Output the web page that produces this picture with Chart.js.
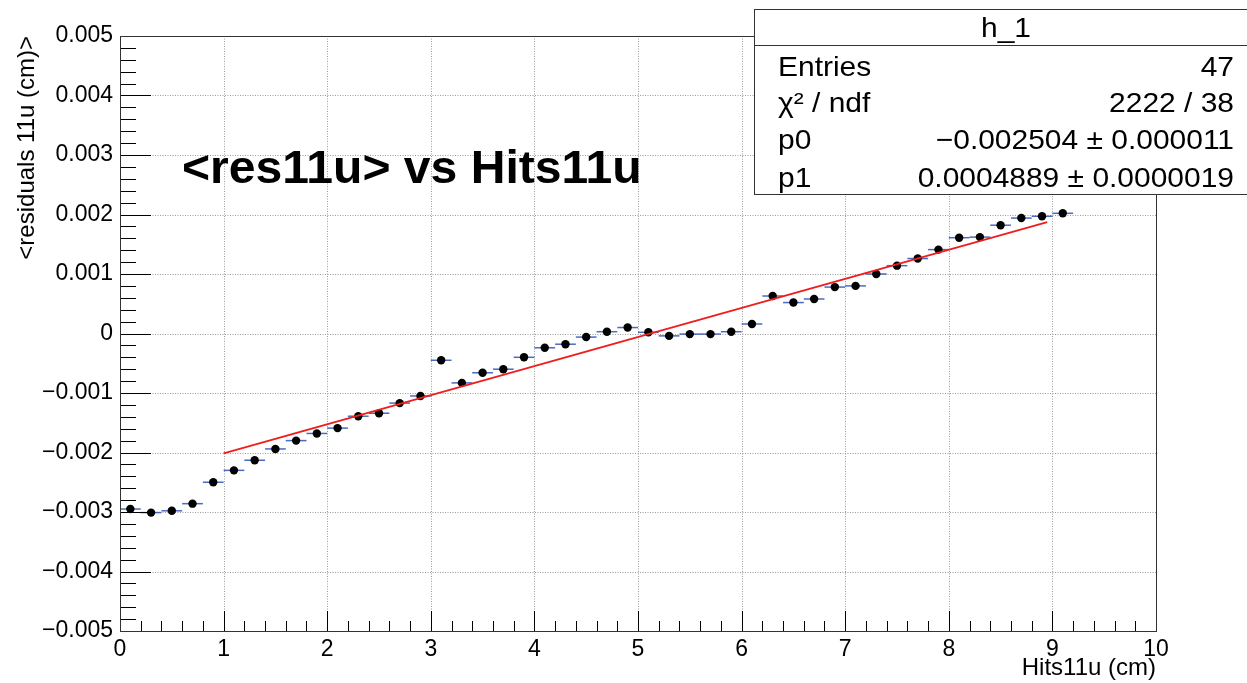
<!DOCTYPE html>
<html>
<head>
<meta charset="utf-8">
<script src="https://cdn.jsdelivr.net/npm/chart.js@4"></script>
<style>
  html, body { margin: 0; padding: 0; background: #fff; }
  canvas { display: block; }
</style>
</head>
<body>
<canvas id="chart" width="1247" height="683"></canvas>
<script>
// bin centres of the profile (Hits11u, cm)
const xVals = [0.1, 0.3, 0.5, 0.7, 0.9, 1.1, 1.3, 1.5, 1.7, 1.9,
  2.1, 2.3, 2.5, 2.7, 2.9, 3.1, 3.3, 3.5, 3.7, 3.9,
  4.1, 4.3, 4.5, 4.7, 4.9, 5.1, 5.3, 5.5, 5.7, 5.9,
  6.1, 6.3, 6.5, 6.7, 6.9, 7.1, 7.3, 7.5, 7.7, 7.9,
  8.1, 8.3, 8.5, 8.7, 8.9, 9.1];
// <residuals 11u> (cm)
const yVals = [-0.00295, -0.00301, -0.00298, -0.00286, -0.00250, -0.00230, -0.00213, -0.00194, -0.00180, -0.00168,
  -0.00159, -0.00139, -0.00134, -0.00117, -0.00105, -0.00045, -0.00083, -0.00066, -0.00060, -0.00040,
  -0.00024, -0.00018, -0.00006, 0.00003, 0.00010, 0.00002, -0.00004, -0.00001, -0.00001, 0.00003,
  0.00016, 0.00063, 0.00052, 0.00058, 0.00078, 0.00080, 0.00100, 0.00114, 0.00126, 0.00141,
  0.00161, 0.00162, 0.00182, 0.00194, 0.00197, 0.00202];
const binHalf = 0.1;

// pol1 fit end points
const fitX = [1.0, 8.95];
const fitY = [-0.002015, 0.001872];

const xTicks = [0, 1, 2, 3, 4, 5, 6, 7, 8, 9, 10];
const yTicks = [-0.005, -0.004, -0.003, -0.002, -0.001, 0, 0.001, 0.002, 0.003, 0.004, 0.005];

const titleText = '<res11u> vs Hits11u';
const xTitle = 'Hits11u (cm)';
const yTitle = '<residuals 11u (cm)>';
const statsName = 'h_1';
const statsLabels = ['Entries', 'χ² / ndf', 'p0', 'p1'];
const statsValues = ['47', '2222 / 38', '−0.002504 ± 0.000011', '0.0004889 ± 0.0000019'];

const FONT = '"Liberation Sans", Arial, Helvetica, sans-serif';

function fmtY(v) {
  const r = Math.round(v * 1000) / 1000;
  if (r === 0) return '0';
  const s = Math.abs(r).toFixed(3);
  return r < 0 ? '−' + s : s;
}

// text drawn a bit wider, like the ROOT output
function wideText(ctx, text, x, y, align, stretch) {
  ctx.save();
  ctx.translate(x, y);
  ctx.scale(stretch, 1);
  ctx.textAlign = align;
  ctx.fillText(text, 0, 0);
  ctx.restore();
}

// ROOT style frame, grid, inner tick marks, error bars and text
const rootStyle = {
  id: 'rootStyle',
  beforeDraw(chart) {
    const ctx = chart.ctx;
    ctx.save();
    ctx.fillStyle = '#fff';
    ctx.fillRect(0, 0, chart.width, chart.height);
    ctx.restore();
  },
  beforeDatasetsDraw(chart) {
    const { ctx, chartArea: a, scales: { x, y } } = chart;
    ctx.save();
    // dotted grid
    ctx.strokeStyle = '#9a9a9a';
    ctx.lineWidth = 1;
    ctx.setLineDash([1, 1.5]);
    xTicks.slice(1, -1).forEach(v => {
      const px = Math.round(x.getPixelForValue(v)) + 0.5;
      ctx.beginPath(); ctx.moveTo(px, a.top); ctx.lineTo(px, a.bottom); ctx.stroke();
    });
    yTicks.slice(1, -1).forEach(v => {
      const py = Math.round(y.getPixelForValue(v)) + 0.5;
      ctx.beginPath(); ctx.moveTo(a.left, py); ctx.lineTo(a.right, py); ctx.stroke();
    });
    ctx.setLineDash([]);
    // horizontal error bars (bin width)
    ctx.strokeStyle = 'rgba(45,80,180,0.85)';
    ctx.lineWidth = 1.5;
    xVals.forEach((xv, i) => {
      const py = y.getPixelForValue(yVals[i]);
      ctx.beginPath();
      ctx.moveTo(x.getPixelForValue(xv - binHalf), py);
      ctx.lineTo(x.getPixelForValue(xv + binHalf), py);
      ctx.stroke();
    });
    ctx.restore();
  },
  afterDatasetsDraw(chart) {
    const { ctx, chartArea: a, scales: { x, y } } = chart;
    ctx.save();
    ctx.strokeStyle = '#000';
    ctx.lineWidth = 1;
    // ticks on the bottom axis, pointing up
    for (let i = 0; i <= 50; i++) {
      const v = i * 0.2;
      const px = Math.round(x.getPixelForValue(v)) + 0.5;
      const len = (i % 5 === 0) ? 20 : 10;
      ctx.beginPath(); ctx.moveTo(px, a.bottom); ctx.lineTo(px, a.bottom - len); ctx.stroke();
    }
    // ticks on the left axis, pointing right
    for (let i = 0; i <= 50; i++) {
      const v = -0.005 + i * 0.0002;
      const py = Math.round(y.getPixelForValue(v)) + 0.5;
      const len = (i % 5 === 0) ? 31 : 16;
      ctx.beginPath(); ctx.moveTo(a.left, py); ctx.lineTo(a.left + len, py); ctx.stroke();
    }
    // frame
    ctx.strokeStyle = '#333';
    ctx.strokeRect(Math.round(a.left) + 0.5, Math.round(a.top) + 0.5,
      Math.round(a.right - a.left), Math.round(a.bottom - a.top));
    ctx.restore();
  },
  afterDraw(chart) {
    const { ctx, chartArea: a } = chart;
    ctx.save();
    ctx.fillStyle = '#000';
    ctx.textBaseline = 'alphabetic';
    // histogram title inside the pad
    ctx.font = 'bold 46px ' + FONT;
    wideText(ctx, titleText, 182, 183, 'left', 1.045);
    // axis titles
    ctx.font = '24px ' + FONT;
    ctx.textAlign = 'right';
    ctx.fillText(xTitle, a.right, 675);
    ctx.translate(34, a.top);
    ctx.rotate(-Math.PI / 2);
    ctx.fillText(yTitle, 0, 0);
    ctx.restore();

    // stats box
    ctx.save();
    const bx = 754.5, by = 9.5, bw = 520, bh = 185;
    ctx.fillStyle = '#fff';
    ctx.fillRect(bx, by, bw, bh);
    ctx.strokeStyle = '#333';
    ctx.lineWidth = 1;
    ctx.strokeRect(bx, by, bw, bh);
    ctx.beginPath(); ctx.moveTo(bx, 45.5); ctx.lineTo(bx + bw, 45.5); ctx.stroke();
    ctx.fillStyle = '#000';
    ctx.font = '28px ' + FONT;
    ctx.textBaseline = 'alphabetic';
    wideText(ctx, statsName, 1006, 37, 'center', 1.07);
    const rows = [76, 112, 149, 187];
    statsLabels.forEach((lab, i) => {
      wideText(ctx, lab, 778, rows[i], 'left', 1.07);
      wideText(ctx, statsValues[i], 1234, rows[i], 'right', 1.07);
    });
    ctx.restore();
  }
};

const ctx = document.getElementById('chart').getContext('2d');
new Chart(ctx, {
  type: 'scatter',
  data: {
    datasets: [
      {
        label: 'fit',
        data: fitX.map((v, i) => ({ x: v, y: fitY[i] })),
        showLine: true,
        borderColor: 'rgb(238,30,30)',
        borderWidth: 2,
        pointRadius: 0,
        order: 0
      },
      {
        label: 'h_1',
        data: xVals.map((v, i) => ({ x: v, y: yVals[i] })),
        pointRadius: 4.2,
        pointBackgroundColor: '#000',
        pointBorderWidth: 0,
        showLine: false,
        order: 1
      }
    ]
  },
  options: {
    responsive: false,
    animation: false,
    devicePixelRatio: 1,
    layout: { padding: { left: 0, top: 36, right: 91, bottom: 0 } },
    plugins: { legend: { display: false }, tooltip: { enabled: false } },
    scales: {
      x: {
        type: 'linear',
        min: 0, max: 10,
        grid: { display: false, drawTicks: false },
        border: { display: false },
        afterBuildTicks: s => { s.ticks = xTicks.map(v => ({ value: v })); },
        ticks: {
          padding: 5,
          maxRotation: 0,
          color: '#000',
          font: { family: FONT, size: 23 }
        },
        afterFit: s => { s.height = 52; }
      },
      y: {
        type: 'linear',
        min: -0.005, max: 0.005,
        grid: { display: false, drawTicks: false },
        border: { display: false },
        afterBuildTicks: s => { s.ticks = yTicks.map(v => ({ value: v })); },
        ticks: {
          padding: 7,
          color: '#000',
          font: { family: FONT, size: 23 },
          callback: v => fmtY(v)
        },
        afterFit: s => { s.width = 120; }
      }
    }
  },
  plugins: [rootStyle]
});
</script>
</body>
</html>
